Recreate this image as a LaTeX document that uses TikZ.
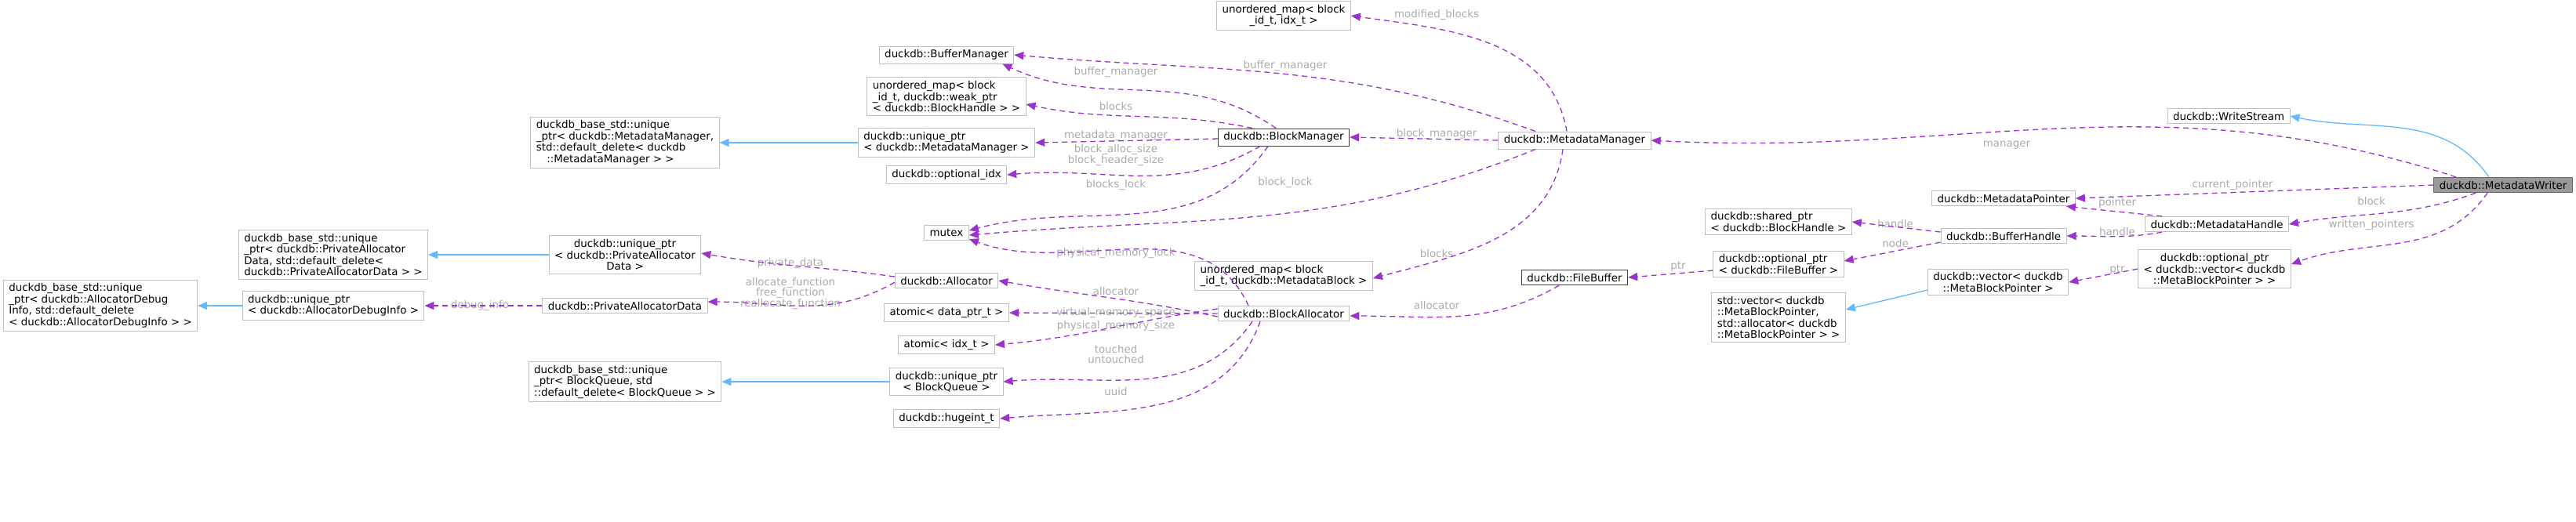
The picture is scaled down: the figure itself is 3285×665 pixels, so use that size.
\documentclass[tikz,border=0pt]{standalone}
\usepackage{fontspec}
\setmainfont{DejaVu Sans}
\usetikzlibrary{arrows.meta}

\definecolor{depcol}{HTML}{9A32CD}
\definecolor{inhcol}{HTML}{63B8FF}
\definecolor{lblcol}{HTML}{ABABAB}
\newcommand\tightlines{\lineskiplimit=-5pt\relax\lineskip=0pt\relax}

\tikzset{
  cls/.style={draw=black!25, line width=0.1pt, fill=white, inner xsep=0.7pt, inner ysep=0.45pt,
              align=left, font=\fontsize{1.34}{1.45}\selectfont\tightlines},
  clsc/.style={cls, align=center},
  lbl/.style={text=lblcol, inner sep=0pt, align=center, font=\fontsize{1.34}{1.35}\selectfont\tightlines},
  dep/.style={->, >={Triangle[length=1.2pt,width=1pt]}, depcol, line width=0.13pt, dash pattern=on 0.7pt off 0.5pt},
  inh/.style={->, >={Triangle[length=1.2pt,width=1pt]}, inhcol, line width=0.13pt},
}

\begin{document}
\begin{tikzpicture}[x=0.1pt,y=-0.1pt]
                    \useasboundingbox (0,0) rectangle (3285,665);

                    \node[cls, fill=black!40, draw=black!60] at (3192,236) (1) {duckdb::MetadataWriter};
                    \node[cls] at (2842,148) (2) {duckdb::WriteStream};
                    \node[cls] at (2008,179) (3) {duckdb::MetadataManager};
                    \node[cls] at (2555,253) (4) {duckdb::MetadataPointer};
                    \node[cls] at (2827,286) (5) {duckdb::MetadataHandle};
                    \node[clsc] at (2824,343) (6) {duckdb::optional\_ptr\\< duckdb::vector< duckdb\\::MetaBlockPointer > >};
                    \node[cls] at (2555,301) (7) {duckdb::BufferHandle};
                    \node[cls] at (2268,283) (8) {duckdb::shared\_ptr\\< duckdb::BlockHandle >};
                    \node[cls] at (2268,337) (9) {duckdb::optional\_ptr\\< duckdb::FileBuffer >};
                    \node[cls, draw=black!75] at (2008,354) (10) {duckdb::FileBuffer};
                    \node[clsc] at (2548,360) (11) {duckdb::vector< duckdb\\::MetaBlockPointer >};
                    \node[cls] at (2268,405) (12) {std::vector< duckdb\\::MetaBlockPointer,\\ std::allocator< duckdb\\::MetaBlockPointer > >};
                    \node[cls] at (1637,400) (13) {duckdb::BlockAllocator};
                    \node[clsc] at (1637,20) (14) {unordered\_map< block\\\_id\_t, idx\_t >};
                    \node[cls] at (1207,70) (15) {duckdb::BufferManager};
                    \node[cls, draw=black!75] at (1637,175) (16) {duckdb::BlockManager};
                    \node[cls] at (1207,297) (17) {mutex};
                    \node[cls] at (1637,352) (18) {unordered\_map< block\\\_id\_t, duckdb::MetadataBlock >};
                    \node[cls] at (1207,123) (19) {unordered\_map< block\\\_id\_t, duckdb::weak\_ptr\\< duckdb::BlockHandle > >};
                    \node[cls] at (1207,182) (20) {duckdb::unique\_ptr\\< duckdb::MetadataManager >};
                    \node[cls] at (1207,223) (21) {duckdb::optional\_idx};
                    \node[cls] at (797,182) (22) {duckdb\_base\_std::unique\\\_ptr< duckdb::MetadataManager,\\ std::default\_delete< duckdb\\ \quad::MetadataManager > >};
                    \node[cls] at (1207,358) (23) {duckdb::Allocator};
                    \node[cls] at (1207,399) (24) {atomic< data\_ptr\_t >};
                    \node[cls] at (1207,440) (25) {atomic< idx\_t >};
                    \node[clsc] at (1207,487) (26) {duckdb::unique\_ptr\\< BlockQueue >};
                    \node[cls] at (1207,534) (27) {duckdb::hugeint\_t};
                    \node[cls] at (797,487) (28) {duckdb\_base\_std::unique\\\_ptr< BlockQueue, std\\::default\_delete< BlockQueue > >};
                    \node[clsc] at (797,325) (29) {duckdb::unique\_ptr\\< duckdb::PrivateAllocator\\Data >};
                    \node[cls] at (797,390) (30) {duckdb::PrivateAllocatorData};
                    \node[cls] at (425,390) (31) {duckdb::unique\_ptr\\< duckdb::AllocatorDebugInfo >};
                    \node[cls] at (425,325) (32) {duckdb\_base\_std::unique\\\_ptr< duckdb::PrivateAllocator\\Data, std::default\_delete<\\ duckdb::PrivateAllocatorData > >};
                    \node[cls] at (128,390) (33) {duckdb\_base\_std::unique\\\_ptr< duckdb::AllocatorDebug\\Info, std::default\_delete\\< duckdb::AllocatorDebugInfo > >};

                    % member labels
                    \node[lbl] at (2559,185) (l1) {manager};
                    \node[lbl] at (2847,236) (l2) {current\_pointer};
                    \node[lbl] at (3024,256) (l3) {block};
                    \node[lbl] at (3024,287) (l4) {written\_pointers};
                    \node[lbl] at (2700,259) (l5) {pointer};
                    \node[lbl] at (2700,295) (l6) {handle};
                    \node[lbl] at (2417,285) (l7) {handle};
                    \node[lbl] at (2417,310) (l8) {node};
                    \node[lbl] at (2140,340) (l9) {ptr};
                    \node[lbl] at (2700,344) (l10) {ptr};
                    \node[lbl] at (1832,389) (l11) {allocator};
                    \node[lbl] at (1832,19) (l12) {modified\_blocks};
                    \node[lbl] at (1639,84) (l13) {buffer\_manager};
                    \node[lbl] at (1832,171) (l14) {block\_manager};
                    \node[lbl] at (1639,233) (l15) {block\_lock};
                    \node[lbl] at (1832,323) (l16) {blocks};
                    \node[lbl] at (1423,92) (l17) {buffer\_manager};
                    \node[lbl] at (1423,135) (l18) {blocks};
                    \node[lbl] at (1423,173) (l19) {metadata\_manager};
                    \node[lbl] at (1423,198) (l20) {block\_alloc\_size\\block\_header\_size};
                    \node[lbl] at (1423,236) (l21) {blocks\_lock};
                    \node[lbl] at (1423,323) (l22) {physical\_memory\_lock};
                    \node[lbl] at (1423,371) (l23) {allocator};
                    \node[lbl] at (1423,399) (l24) {virtual\_memory\_space};
                    \node[lbl] at (1423,416) (l25) {physical\_memory\_size};
                    \node[lbl] at (1423,452) (l26) {touched\\untouched};
                    \node[lbl] at (1423,499) (l27) {uuid};
                    \node[lbl] at (1008,336) (l28) {private\_data};
                    \node[lbl] at (1008,374) (l29) {allocate\_function\\free\_function\\reallocate\_function};
                    \node[lbl] at (612,390) (l30) {debug\_info};

                    \draw[inh] ([xshift=-1.8pt]1.north) to[out=125,in=-12] (2.east);
                    \draw[dep] ([xshift=-6pt]1.north) to[out=162,in=-3] (3.east);
                    \draw[dep] (1.west) -- (4.east);
                    \draw[dep] ([xshift=-3.5pt]1.south) to[out=200,in=10] (5.east);
                    \draw[dep] ([xshift=-2pt]1.south) to[out=-125,in=20] ([yshift=0.6pt]6.east);
                    \draw[dep] ([xshift=-7pt]5.north) -- ([xshift=-1.2pt]4.south east);
                    \draw[dep] ([xshift=-7pt]5.south) to[out=190,in=0] (7.east);
                    \draw[dep] ([yshift=0.5pt]7.west) -- (8.east);
                    \draw[dep] ([yshift=-0.8pt]7.west) -- ([yshift=0.4pt]9.east);
                    \draw[dep] ([yshift=-0.8pt]9.west) -- (10.east);
                    \draw[dep] (6.west) -- (11.east);
                    \draw[inh] ([yshift=-1pt]11.west) -- ([yshift=1pt]12.east);
                    \draw[dep] ([xshift=-2pt]10.south) to[out=-150,in=0] ([yshift=-0.3pt]13.east);
                    \draw[dep] ([xshift=-1pt]3.north) to[out=100,in=-8] (14.east);
                    \draw[dep] ([xshift=-5pt]3.north) to[out=160,in=-5] (15.east);
                    \draw[dep] (3.west) -- (16.east);
                    \draw[dep] ([xshift=-5pt]3.south) to[out=-158,in=5] ([yshift=-0.3pt]17.east);
                    \draw[dep] ([xshift=-1.5pt]3.south) to[out=-98,in=15] ([yshift=-0.3pt]18.east);
                    \draw[dep] ([xshift=-1pt]16.north) to[out=145,in=-25] ([xshift=-1.5pt]15.south east);
                    \draw[dep] ([xshift=-4pt]16.north) to[out=168,in=-12] ([yshift=-1pt]19.east);
                    \draw[dep] ([yshift=-0.2pt]16.west) -- (20.east);
                    \draw[dep] ([xshift=-3pt]16.south) to[out=-150,in=5] (21.east);
                    \draw[dep] ([xshift=-2pt]16.south) to[out=-125,in=15] ([yshift=0.3pt]17.east);
                    \draw[inh] (20.west) -- (22.east);
                    \draw[dep] ([xshift=-4.5pt]13.north) to[out=115,in=-20] ([yshift=-0.8pt]17.east);
                    \draw[dep] ([yshift=-0.4pt]13.west) to[out=168,in=-10] (23.east);
                    \draw[dep] (13.west) -- (24.east);
                    \draw[dep] ([yshift=0.6pt]13.west) to[out=188,in=5] (25.east);
                    \draw[dep] ([xshift=-4pt]13.south) to[out=-125,in=5] (26.east);
                    \draw[dep] ([xshift=-3pt]13.south) to[out=-110,in=5] (27.east);
                    \draw[inh] (26.west) -- (28.east);
                    \draw[dep] ([yshift=0.5pt]23.west) to[out=172,in=-10] ([yshift=0.2pt]29.east);
                    \draw[dep] ([yshift=0.8pt]23.south west) to[out=-150,in=0] ([yshift=0.5pt]30.east);
                    \draw[dep] (30.west) -- (31.east);
                    \draw[inh] (29.west) -- (32.east);
                    \draw[inh] (31.west) -- (33.east);
                \end{tikzpicture}
\end{document}
